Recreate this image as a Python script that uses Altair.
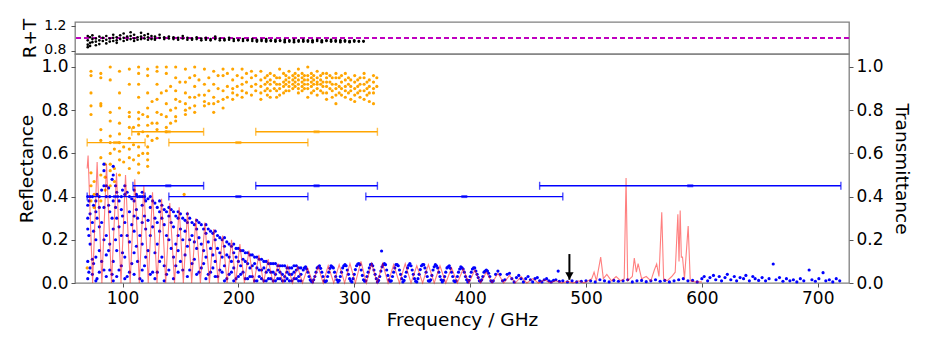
import altair as alt
import pandas as pd

# ---------------- data ----------------
# Orange scatter (transmittance), columns of (frequency GHz, [values])
orange_cols = [
    (69.5, [0.07]),
    (72.8, [0.98, 0.96, 0.88, 0.82, 0.78, 0.51, 0.45, 0.38]),
    (75.5, [0.47, 0.41, 0.35]),
    (81.3, [0.97, 0.95, 0.83, 0.82, 0.71, 0.66, 0.58, 0.50, 0.38]),
    (85.0, [0.55, 0.49, 0.43]),
    (89.4, [1.00, 0.94, 0.79, 0.75, 0.68, 0.65, 0.60, 0.55, 0.52, 0.45]),
    (93.0, [0.62, 0.53, 0.47]),
    (97.4, [0.98, 0.88, 0.81, 0.74, 0.69, 0.65, 0.61, 0.57, 0.50]),
    (101.0, [0.63, 0.56]),
    (105.9, [0.99, 0.92, 0.79, 0.77, 0.72, 0.67, 0.62, 0.58, 0.53]),
    (109.5, [0.72, 0.64, 0.57]),
    (113.9, [1.00, 0.97, 0.92, 0.86, 0.79, 0.76, 0.73, 0.69, 0.63, 0.59, 0.55, 0.51]),
    (117.5, [0.78, 0.70, 0.60]),
    (121.7, [0.99, 0.96, 0.88, 0.81, 0.77, 0.73, 0.68, 0.63, 0.60, 0.57, 0.54]),
    (125.5, [0.84, 0.74, 0.66]),
    (129.8, [1.00, 0.98, 0.92, 0.85, 0.79, 0.74, 0.71, 0.67]),
    (133.5, [0.88, 0.78]),
    (137.8, [1.00, 0.97, 0.89, 0.83, 0.77, 0.72, 0.70]),
    (141.5, [0.91, 0.80, 0.74]),
    (145.9, [1.00, 0.95, 0.89, 0.85, 0.81, 0.77, 0.75]),
    (149.5, [0.93, 0.84]),
    (153.2, [0.41]),
    (154.3, [0.99, 0.93, 0.88, 0.83, 0.80, 0.78]),
    (158.0, [0.95, 0.86, 0.81]),
    (162.3, [1.00, 0.96, 0.91, 0.86, 0.82, 0.79]),
    (166.0, [0.94, 0.87]),
    (170.7, [0.99, 0.92, 0.87, 0.84, 0.82]),
    (174.5, [0.95, 0.89, 0.83]),
    (178.7, [0.98, 0.92, 0.86, 0.83, 0.79]),
    (182.5, [0.96, 0.90, 0.84]),
    (186.8, [0.99, 0.96, 0.89, 0.85, 0.81]),
    (190.5, [0.97, 0.91, 0.86]),
    (195.1, [0.99, 0.94, 0.90, 0.88, 0.85]),
    (199.0, [0.96, 0.91, 0.87]),
    (203.2, [0.99, 0.95, 0.92, 0.89, 0.86]),
    (207.0, [0.97, 0.93, 0.88]),
    (211.3, [0.98, 0.95, 0.91, 0.87]),
    (215.0, [0.96, 0.92, 0.89]),
    (219.4, [0.98, 0.94, 0.91, 0.88, 0.85]),
    (223.0, [0.95, 0.92, 0.89]),
    (225.0, [0.96, 0.93, 0.90, 0.87]),
    (227.5, [0.97, 0.94, 0.92, 0.89, 0.86]),
    (231.0, [0.96, 0.93, 0.90]),
    (233.0, [0.95, 0.92, 0.89, 0.86]),
    (235.6, [0.99, 0.95, 0.92, 0.90, 0.87]),
    (239.0, [0.97, 0.93, 0.91, 0.88]),
    (241.0, [0.96, 0.94, 0.92, 0.89]),
    (243.7, [0.98, 0.95, 0.93, 0.91, 0.89]),
    (247.0, [0.96, 0.94, 0.92, 0.90]),
    (249.0, [0.97, 0.95, 0.93, 0.91]),
    (251.8, [0.99, 0.96, 0.94, 0.92, 0.90, 0.88]),
    (255.0, [0.97, 0.95, 0.93, 0.91, 0.89]),
    (257.0, [0.96, 0.94, 0.92, 0.90]),
    (259.9, [1.00, 0.96, 0.94, 0.92, 0.90, 0.86]),
    (263.0, [0.97, 0.95, 0.93, 0.91, 0.88]),
    (265.0, [0.96, 0.94, 0.92, 0.89]),
    (268.0, [0.98, 0.95, 0.93, 0.92, 0.90, 0.87]),
    (271.0, [0.96, 0.94, 0.92, 0.89]),
    (273.0, [0.97, 0.93, 0.91, 0.88]),
    (276.1, [0.97, 0.95, 0.93, 0.91, 0.88, 0.85]),
    (279.0, [0.96, 0.93, 0.90]),
    (281.0, [0.95, 0.92, 0.89, 0.86]),
    (284.2, [0.97, 0.95, 0.92, 0.90, 0.87, 0.83]),
    (287.0, [0.95, 0.91, 0.88]),
    (289.0, [0.96, 0.93, 0.90, 0.87]),
    (292.3, [0.97, 0.94, 0.91, 0.89, 0.86]),
    (295.0, [0.95, 0.92, 0.88]),
    (297.0, [0.94, 0.91, 0.89, 0.85]),
    (300.4, [0.96, 0.93, 0.90, 0.87, 0.84]),
    (303.0, [0.94, 0.91, 0.88]),
    (305.0, [0.95, 0.92, 0.89, 0.86]),
    (308.5, [0.97, 0.95, 0.92, 0.89, 0.85]),
    (311.0, [0.93, 0.90, 0.87]),
    (313.0, [0.94, 0.91, 0.88, 0.84]),
    (316.6, [0.96, 0.93, 0.90, 0.88, 0.83]),
    (319.5, [0.95, 0.91]),
]

# Blue scatter (reflectance), low band as columns
blue_cols = [
    (70, [0.40, 0.36, 0.30, 0.25, 0.10, 0.02]), (71, [0.38, 0.22, 0.05]),
    (72, [0.40, 0.32, 0.18, 0.07]), (74, [0.40, 0.28, 0.11, 0.04]), (75, [0.36, 0.24, 0.09]),
    (77, [0.38, 0.33, 0.20, 0.12, 0.01]), (78, [0.41, 0.30, 0.02]),
    (80, [0.40, 0.35, 0.26, 0.15, 0.05]), (82, [0.43, 0.28, 0.10]),
    (84, [0.55, 0.52, 0.45, 0.35, 0.20, 0.06]), (86, [0.45, 0.40, 0.22, 0.13, 0.03]),
    (88, [0.44, 0.36, 0.15]), (89, [0.40, 0.33, 0.18, 0.06]), (91, [0.48, 0.30, 0.04]),
    (92, [0.54, 0.50, 0.38, 0.25, 0.10, 0.01]), (94, [0.45, 0.35, 0.20]),
    (95, [0.42, 0.30, 0.15, 0.03]), (97, [0.38, 0.26, 0.06]), (99, [0.40, 0.34, 0.22, 0.08]),
    (100, [0.43, 0.31, 0.14]), (102, [0.45, 0.41, 0.28, 0.12, 0.02]), (104, [0.42, 0.22, 0.03]),
    (106, [0.40, 0.33, 0.19, 0.05]), (108, [0.39, 0.27, 0.09]),
    (110, [0.43, 0.38, 0.31, 0.24, 0.14, 0.04]), (112, [0.41, 0.34, 0.17]),
    (113, [0.40, 0.30, 0.10]), (115, [0.40, 0.22, 0.02]),
    (117, [0.42, 0.40, 0.36, 0.28, 0.18, 0.06, 0.01]), (119, [0.40, 0.31, 0.08]),
    (120, [0.38, 0.25, 0.12]), (122, [0.39, 0.29, 0.15]), (124, [0.40, 0.35, 0.22, 0.04]),
    (126, [0.38, 0.26, 0.05]), (128, [0.37, 0.30, 0.14, 0.02]), (130, [0.35, 0.28, 0.18, 0.05]),
    (132, [0.38, 0.33, 0.24, 0.10]), (134, [0.36, 0.30, 0.12]), (136, [0.34, 0.27, 0.08, 0.01]),
    (138, [0.33, 0.22, 0.04]), (140, [0.35, 0.31, 0.20, 0.06]), (142, [0.34, 0.28, 0.16]),
    (144, [0.33, 0.26, 0.12, 0.02]), (146, [0.31, 0.18, 0.08]),
    (148, [0.33, 0.30, 0.22, 0.15, 0.05]), (150, [0.32, 0.25, 0.10]),
    (152, [0.30, 0.20, 0.06]), (154, [0.29, 0.24, 0.13]), (156, [0.32, 0.28, 0.17, 0.03]),
    (158, [0.30, 0.20, 0.06]), (160, [0.28, 0.22, 0.09]), (162, [0.27, 0.19, 0.11]),
    (164, [0.29, 0.25, 0.16, 0.04]), (166, [0.28, 0.21, 0.05]), (168, [0.27, 0.18, 0.07]),
    (170, [0.25, 0.15, 0.09]), (172, [0.27, 0.23, 0.12, 0.02]), (174, [0.25, 0.19, 0.04]),
    (176, [0.24, 0.16, 0.05]), (178, [0.23, 0.13, 0.07]), (180, [0.24, 0.20, 0.10, 0.03]),
    (182, [0.22, 0.16, 0.03]), (184, [0.21, 0.14, 0.06]), (186, [0.20, 0.12, 0.05]),
    (188, [0.21, 0.17, 0.08, 0.01]), (190, [0.19, 0.13, 0.02]), (192, [0.18, 0.12, 0.04]),
    (194, [0.17, 0.10, 0.05]), (196, [0.18, 0.14, 0.07, 0.01]), (198, [0.16, 0.12, 0.02]),
    (200, [0.16, 0.10, 0.03]), (202, [0.15, 0.08, 0.04]), (204, [0.15, 0.11, 0.05]),
    (206, [0.14, 0.10, 0.02]), (208, [0.14, 0.09, 0.02]), (210, [0.13, 0.07, 0.03]),
    (212, [0.13, 0.08, 0.03]), (214, [0.12, 0.09, 0.01]), (216, [0.12, 0.07, 0.01]),
    (218, [0.11, 0.06, 0.03]), (220, [0.11, 0.06, 0.02]), (222, [0.10, 0.07, 0.01]),
    (224, [0.10, 0.05, 0.01]), (226, [0.09, 0.06, 0.02]), (228, [0.09, 0.05, 0.02]),
    (230, [0.09, 0.05, 0.01]), (232, [0.09, 0.04, 0.01]), (234, [0.08, 0.06, 0.02]),
    (236, [0.08, 0.05, 0.02]), (238, [0.08, 0.04, 0.01]), (240, [0.08, 0.03, 0.01]),
    (242, [0.07, 0.05, 0.02]), (244, [0.07, 0.04, 0.01]), (246, [0.07, 0.04, 0.01]),
    (248, [0.08, 0.05, 0.02]), (250, [0.08, 0.06, 0.02]), (252, [0.07, 0.03, 0.01]),
    (254, [0.07, 0.04, 0.01]),
]
# Blue scatter, fringe trace and high band
blue_f = [256, 257, 258, 260, 262, 264, 266, 268, 269, 270, 272, 274, 276, 278, 280, 281, 282, 284, 286,
          288, 290, 292, 293, 294, 296, 298, 300, 302, 304, 305, 306, 308, 310, 312, 314, 316, 317, 318,
          320, 322, 323.6, 324, 326, 327, 328, 330, 332, 334, 336, 338, 339, 340, 342, 344, 346, 348, 349,
          350, 352, 354, 356, 358, 359, 360, 362, 364, 366, 368, 370, 371, 372, 374, 376, 378, 380, 381,
          382, 384, 386, 388, 390, 392, 393, 394, 396, 398, 400, 402, 403, 404, 406, 408, 410, 412, 413,
          414, 416, 418, 420, 422, 424, 426, 428, 430, 432, 434, 436, 438, 440, 442, 444, 446, 448, 450,
          452, 454, 456, 458, 460, 462, 464, 466, 468, 470, 472, 474, 476, 477, 480, 484, 488, 492, 496,
          500, 504, 508, 512, 516, 520, 524, 528, 532, 536, 540, 544, 548, 552, 556, 560, 564, 568, 572,
          576, 580, 584, 588, 592, 596, 600, 602, 605, 607, 610, 612, 615, 617, 620, 622, 625, 628, 630,
          633, 636, 638, 641, 644, 646, 649, 652, 655, 658, 661.6, 664, 667, 670, 673, 676, 679, 682, 685,
          688, 692.6, 695, 698, 701, 704.6, 707, 710, 713, 716, 719]
blue_v = [0.06, 0.07, 0.075, 0.05, 0.015, 0.005, 0.03, 0.07, 0.075, 0.08, 0.05, 0.01, 0.01, 0.05, 0.08, 0.075,
          0.07, 0.03, 0.005, 0.03, 0.07, 0.085, 0.08, 0.06, 0.02, 0.005, 0.04, 0.08, 0.09, 0.085, 0.06, 0.015,
          0.01, 0.05, 0.085, 0.08, 0.06, 0.04, 0.005, 0.03, 0.148, 0.075, 0.09, 0.085, 0.06, 0.015, 0.01, 0.05,
          0.085, 0.08, 0.06, 0.04, 0.005, 0.03, 0.07, 0.09, 0.08, 0.06, 0.02, 0.005, 0.04, 0.08, 0.085, 0.085,
          0.05, 0.01, 0.015, 0.06, 0.085, 0.08, 0.07, 0.03, 0.005, 0.03, 0.07, 0.075, 0.08, 0.05, 0.01, 0.01,
          0.05, 0.075, 0.07, 0.065, 0.03, 0.005, 0.03, 0.065, 0.07, 0.07, 0.04, 0.01, 0.015, 0.05, 0.055, 0.06,
          0.045, 0.01, 0.01, 0.04, 0.055, 0.04, 0.01, 0.015, 0.04, 0.045, 0.02, 0.005, 0.025, 0.035, 0.02,
          0.005, 0.02, 0.03, 0.015, 0.005, 0.02, 0.025, 0.01, 0.005, 0.015, 0.02, 0.01, 0.005, 0.012, 0.015,
          0.055, 0.008, 0.01, 0.005, 0.01, 0.005, 0.008, 0.01, 0.01, 0.005, 0.015, 0.01, 0.005, 0.012, 0.008,
          0.01, 0.015, 0.005, 0.01, 0.012, 0.006, 0.01, 0.015, 0.008, 0.012, 0.005, 0.01, 0.015, 0.02, 0.01,
          0.012, 0.005, 0.02, 0.03, 0.01, 0.025, 0.035, 0.015, 0.03, 0.01, 0.025, 0.04, 0.015, 0.03, 0.01,
          0.025, 0.02, 0.035, 0.01, 0.03, 0.02, 0.012, 0.025, 0.01, 0.02, 0.088, 0.015, 0.025, 0.008, 0.02,
          0.01, 0.015, 0.005, 0.02, 0.01, 0.06, 0.015, 0.008, 0.02, 0.048, 0.01, 0.015, 0.005, 0.02, 0.01]
blue2_f = [259, 261, 263, 265, 267, 271, 273, 275, 277, 279, 283, 285, 287, 289, 291, 295, 297, 299, 301,
           303, 307, 309, 311, 313, 315, 319, 321, 323, 325, 329, 331, 333, 335, 337, 341, 343, 345, 347,
           351, 353, 355, 357, 361, 363, 365, 367, 369, 373, 375, 377, 379, 383, 385, 387, 389, 391, 395,
           397, 399, 401, 405, 407, 409, 411, 415, 417, 419]
blue2_v = [0.065, 0.03, 0.008, 0.015, 0.05, 0.068, 0.03, 0.006, 0.03, 0.068, 0.05, 0.015, 0.012, 0.05, 0.08,
           0.04, 0.01, 0.02, 0.062, 0.088, 0.035, 0.008, 0.03, 0.07, 0.088, 0.02, 0.012, 0.055, 0.085, 0.035,
           0.008, 0.03, 0.07, 0.085, 0.02, 0.012, 0.05, 0.082, 0.04, 0.008, 0.02, 0.062, 0.07, 0.03, 0.008,
           0.035, 0.075, 0.05, 0.015, 0.012, 0.05, 0.068, 0.03, 0.006, 0.03, 0.065, 0.05, 0.015, 0.012, 0.05,
           0.055, 0.025, 0.008, 0.03, 0.055, 0.03, 0.006]

# Red simulated line
red_f = [69.5, 70.3, 74.2, 78.1, 82.2, 86.2, 90.5, 94.8, 98.7, 102.6, 106.6, 110.6, 114.5, 118.4, 122.2,
         125.9, 129.8, 133.7, 137.3, 140.8, 144.9, 148.9, 152.5, 156.1, 159.7, 163.3, 167.2, 171.1, 175.0,
         178.8, 182.6, 186.4, 190.3, 194.1, 197.7, 201.3, 205.2, 209.1, 213.4, 217.7, 221.7, 225.7, 230.0,
         234.4, 238.5, 242.5, 246.8, 251.1, 255.4, 259.7, 264.3, 268.9, 273.2, 277.5, 282.3, 287.0, 291.7,
         296.3, 301.0, 305.8, 310.4, 315.0, 319.8, 324.5, 329.2, 334.0, 339.0, 344.0, 349.0, 354.0, 359.0,
         364.0, 369.0, 374.0, 379.0, 384.0, 389.0, 394.0, 399.0, 404.0, 409.0, 414.0, 419.0, 424.0, 429.0,
         434.0, 439.0, 444.0, 449.0, 454.0, 459.0, 464.0, 469.0, 474.0, 479.0, 484.0, 489.0, 494.0, 498.0,
         500, 505, 507, 509, 512.7, 515, 518, 522, 526, 530, 533, 534.6, 536, 540, 541.7, 543.5, 545, 548,
         552, 556, 559, 561, 563, 565.4, 567, 570, 574, 577, 579.3, 580.3, 581.3, 582.3, 583.3, 585, 588.2,
         590, 595, 600]
red_v = [0.53, 0.59, 0.0, 0.56, 0.0, 0.55, 0.0, 0.51, 0.0, 0.50, 0.0, 0.48, 0.0, 0.45, 0.0,
         0.42, 0.0, 0.39, 0.0, 0.37, 0.0, 0.35, 0.0, 0.33, 0.0, 0.30, 0.0, 0.28, 0.0,
         0.25, 0.0, 0.22, 0.0, 0.20, 0.0, 0.18, 0.0, 0.15, 0.0, 0.13, 0.0, 0.11, 0.0,
         0.09, 0.0, 0.08, 0.0, 0.075, 0.0, 0.07, 0.0, 0.075, 0.0, 0.08, 0.0, 0.085, 0.0,
         0.09, 0.0, 0.10, 0.0, 0.09, 0.0, 0.09, 0.0, 0.085, 0.0, 0.09, 0.0, 0.08, 0.0,
         0.085, 0.0, 0.08, 0.0, 0.07, 0.0, 0.065, 0.0, 0.06, 0.0, 0.05, 0.0, 0.045, 0.0,
         0.035, 0.0, 0.03, 0.0, 0.02, 0.0, 0.015, 0.0, 0.01, 0.0, 0.008, 0.0, 0.01, 0.0,
         0.005, 0.02, 0.05, 0.01, 0.12, 0.02, 0.04, 0.01, 0.03, 0.01, 0.02, 0.486, 0.01, 0.03, 0.115, 0.05, 0.09, 0.02,
         0.03, 0.01, 0.06, 0.088, 0.03, 0.327, 0.02, 0.01, 0.03, 0.05, 0.318, 0.10, 0.336, 0.12, 0.12, 0.02, 0.264,
         0.01, 0.005, 0.005]

# Black R+T scatter (top panel)
rt_cols = [
    (70, [1.04, 0.97, 0.90, 0.86]), (72, [1.02, 0.93, 0.88]), (74, [1.05, 0.99, 0.94]),
    (77, [1.00, 0.95, 0.89]), (80, [1.03, 0.97, 0.91]), (83, [1.01, 0.96]),
    (86, [1.04, 0.98, 0.92]), (89, [1.00, 0.95]), (92, [1.06, 1.01, 0.96]),
    (95, [1.02, 0.97, 0.93]), (98, [1.05, 0.99]), (101, [1.08, 1.01, 0.96]),
    (104, [1.03, 0.98]), (107, [1.10, 1.04, 0.99]), (110, [1.06, 1.00, 0.96]),
    (113, [1.02, 0.98]), (116, [1.09, 1.03, 0.99]), (119, [1.05, 1.00]),
    (122, [1.07, 1.02, 0.98]), (125, [1.04, 0.99]), (128, [1.03, 1.00, 0.98]),
    (132, [1.06, 1.01]), (136, [1.02, 0.99]), (140, [1.03, 1.00]), (144, [1.02, 0.99]),
    (148, [1.01, 0.98]), (152, [1.04, 1.00]), (156, [1.01, 0.98]), (160, [1.00, 0.98]),
    (164, [1.02, 0.99]), (168, [1.00, 0.97]), (172, [1.01, 0.98]), (176, [0.99, 0.97]),
    (180, [1.03, 0.99]), (184, [1.00, 0.97]), (188, [0.99, 0.97]), (192, [1.01, 0.98]),
    (196, [0.99, 0.96]), (200, [0.98, 0.97]), (204, [0.99, 0.96]), (208, [0.98, 0.97]),
    (212, [0.99, 0.96]), (216, [0.98, 0.97, 0.95]), (220, [0.98, 0.96]), (224, [0.99, 0.97, 0.95]),
    (228, [0.97, 0.96]), (232, [0.98, 0.96, 0.95]), (236, [0.97, 0.96]), (240, [0.98, 0.96, 0.94]),
    (244, [0.97, 0.95]), (248, [0.98, 0.96, 0.94]), (252, [0.97, 0.95]), (256, [0.98, 0.96, 0.95]),
    (260, [0.97, 0.95]), (264, [0.97, 0.96, 0.94]), (268, [0.98, 0.96]), (272, [0.97, 0.95, 0.94]),
    (276, [0.97, 0.96]), (280, [0.98, 0.96, 0.95]), (284, [0.97, 0.95]), (288, [0.97, 0.96, 0.94]),
    (292, [0.97, 0.95]), (296, [0.96, 0.95, 0.94]), (300, [0.97, 0.95]), (304, [0.96, 0.95]),
    (308, [0.96, 0.95]),
]

# Frequency-band error bars
bar_color = ["orange", "orange", "orange", "orange", "blue", "blue", "blue", "blue", "blue", "blue"]
bar_y = [0.70, 0.70, 0.65, 0.65, 0.45, 0.45, 0.45, 0.40, 0.40, 0.40]
bar_lo = [108, 215, 69.5, 140, 109, 215, 460, 69.5, 140, 310]
bar_hi = [170, 320, 119.5, 260, 170, 320, 720, 119.5, 260, 480]
bar_mid = [139, 267.5, 94.5, 200, 139.5, 267.5, 590, 94.5, 200, 395]

# Arrow marker
arrow_f = [485.7]
arrow_top = [0.134]
arrow_tip = [0.015]

x_ticks = [100, 200, 300, 400, 500, 600, 700]
y_ticks = [0.0, 0.2, 0.4, 0.6, 0.8, 1.0]
rt_ticks = [0.8, 1.0, 1.2]
rt_ref = 1.0

# ---------------- tables ----------------
def flatten(cols):
    fs, vs = [], []
    for f, vals in cols:
        for v in vals:
            fs.append(f)
            vs.append(v)
    return fs, vs

of, ov = flatten(orange_cols)
orange_df = pd.DataFrame({"f": of, "v": ov})
bf, bv = flatten(blue_cols)
blue_df = pd.DataFrame({"f": bf + blue_f + blue2_f, "v": bv + blue_v + blue2_v})
red_df = pd.DataFrame({"f": red_f, "v": red_v})
rf, rv = flatten(rt_cols)
rt_df = pd.DataFrame({"f": rf, "v": rv})
bars_df = pd.DataFrame({"c": bar_color, "y": bar_y, "lo": bar_lo, "hi": bar_hi, "mid": bar_mid})
caps_df = pd.DataFrame({"c": bar_color + bar_color, "y": bar_y + bar_y, "x": bar_lo + bar_hi})
arrow_df = pd.DataFrame({"f": arrow_f, "top": arrow_top, "tip": arrow_tip})

W = 774
FONT = "DejaVu Sans"

xs = alt.Scale(domain=[59, 727], nice=False, zero=False)
ys = alt.Scale(domain=[0, 1.06], nice=False, zero=False)
ts = alt.Scale(domain=[0.75, 1.265], nice=False, zero=False)

x_axis = alt.Axis(title="Frequency / GHz", values=x_ticks, format="d")
y_left = alt.Axis(title="Reflectance", orient="left", values=y_ticks, format=".1f")
y_right = alt.Axis(title="Transmittance", orient="right", values=y_ticks, format=".1f", titlePadding=8)

def X(field):
    return alt.X(field, type="quantitative", scale=xs, axis=x_axis)

def YL(field):
    return alt.Y(field, type="quantitative", scale=ys, axis=y_left)

color_scale = alt.Scale(domain=["orange", "blue"], range=["#ffa500", "#0000ff"])

orange_pts = alt.Chart(orange_df).mark_circle(color="#ffa500", size=10, opacity=1).encode(
    x=X("f"), y=alt.Y("v:Q", scale=ys, axis=y_right)
)
blue_pts = alt.Chart(blue_df).mark_circle(color="#0000ff", size=10, opacity=1).encode(x=X("f"), y=YL("v"))
red_line = alt.Chart(red_df).mark_line(color="#ff0000", opacity=0.5, strokeWidth=1.1).encode(
    x=X("f"), y=YL("v")
)
bar_rules = alt.Chart(bars_df).mark_rule(strokeWidth=1.4).encode(
    x=X("lo"), x2="hi", y=YL("y"), color=alt.Color("c:N", scale=color_scale, legend=None)
)
bar_caps = alt.Chart(caps_df).mark_tick(orient="vertical", size=8, thickness=1.4).encode(
    x=X("x"), y=YL("y"), color=alt.Color("c:N", scale=color_scale, legend=None)
)
bar_mids = alt.Chart(bars_df).mark_tick(orient="horizontal", size=6, thickness=3).encode(
    x=X("mid"), y=YL("y"), color=alt.Color("c:N", scale=color_scale, legend=None)
)
arrow_shaft = alt.Chart(arrow_df).mark_rule(color="black", strokeWidth=2).encode(
    x=X("f"), y=YL("top"), y2="tip"
)
arrow_head = alt.Chart(arrow_df).mark_point(
    shape="triangle-down", filled=True, color="black", size=70, opacity=1, yOffset=-4
).encode(x=X("f"), y=YL("tip"))

left_group = alt.layer(blue_pts, red_line, bar_rules, bar_caps, bar_mids, arrow_shaft, arrow_head)
main = alt.layer(orange_pts, left_group).resolve_scale(y="independent").properties(width=W, height=229)

rt_pts = alt.Chart(rt_df).mark_circle(color="black", size=7, opacity=1).encode(
    x=alt.X("f:Q", scale=xs, axis=None),
    y=alt.Y("v:Q", scale=ts, axis=alt.Axis(title="R+T", values=rt_ticks, format=".1f",
                                             labelFontSize=14, labelPadding=5, labelOffset=-1)),
)
rt_line = alt.Chart(rt_df).mark_rule(color="#bf00bf", strokeDash=[5, 3], strokeWidth=1.3).encode(
    y=alt.Y(datum=rt_ref)
)
top = alt.layer(rt_line, rt_pts).properties(width=W, height=32)

chart = (
    alt.vconcat(top, main, spacing=0, bounds="flush")
    .properties(padding={"left": 9, "top": 9, "right": 5, "bottom": 5})
    .configure_view(stroke="#808080", strokeWidth=1.3)
    .configure_axis(
        labelFont=FONT, titleFont=FONT, labelFontSize=17, titleFontSize=18.5,
        titleFontWeight="normal", labelColor="black", titleColor="black",
        grid=False, domain=False, tickColor="#555555", tickSize=4, labelPadding=3,
    )
)

chart.save("out.html", embed_options={"renderer": "svg", "actions": False})
